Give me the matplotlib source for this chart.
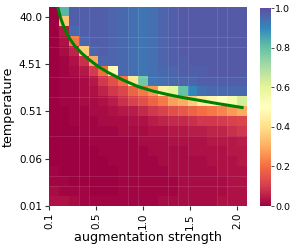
import numpy as np
import matplotlib
matplotlib.use("Agg")
import matplotlib.pyplot as plt

# tick labels
strength_labels = ["0.1", "0.5", "1.0", "1.5", "2.0"]
temperature_labels = ["0.01", "0.06", "0.51", "4.51", "40.0"]
cbar_ticks = [0.0, 0.2, 0.4, 0.6, 0.8, 1.0]

# 20x20 grid, row 0 = highest temperature (top), col 0 = lowest strength
r00 = [0.00, 0.82, 0.97, 0.97, 0.97, 0.97, 0.96, 0.95, 0.94, 0.93, 0.94, 0.96, 0.97, 0.98, 0.98, 0.98, 0.98, 0.98, 0.98, 0.98]
r01 = [0.00, 0.35, 0.97, 0.97, 0.97, 0.97, 0.96, 0.95, 0.94, 0.93, 0.94, 0.96, 0.97, 0.98, 0.98, 0.98, 0.98, 0.98, 0.98, 0.98]
r02 = [0.00, 0.04, 0.95, 0.97, 0.97, 0.97, 0.96, 0.95, 0.94, 0.93, 0.94, 0.96, 0.97, 0.98, 0.98, 0.98, 0.98, 0.98, 0.98, 0.98]
r03 = [0.00, 0.03, 0.22, 0.96, 0.97, 0.97, 0.96, 0.95, 0.94, 0.93, 0.94, 0.96, 0.97, 0.98, 0.98, 0.98, 0.98, 0.98, 0.98, 0.98]
r04 = [0.00, 0.02, 0.06, 0.36, 0.96, 0.97, 0.96, 0.95, 0.94, 0.93, 0.94, 0.96, 0.97, 0.98, 0.98, 0.98, 0.98, 0.98, 0.98, 0.98]
r05 = [0.00, 0.01, 0.03, 0.08, 0.30, 0.96, 0.96, 0.95, 0.94, 0.93, 0.94, 0.96, 0.97, 0.97, 0.98, 0.98, 0.98, 0.98, 0.98, 0.98]
r06 = [0.00, 0.01, 0.02, 0.04, 0.10, 0.20, 0.48, 0.95, 0.94, 0.93, 0.94, 0.95, 0.96, 0.97, 0.97, 0.97, 0.98, 0.98, 0.98, 0.98]
r07 = [0.00, 0.01, 0.01, 0.02, 0.04, 0.09, 0.14, 0.20, 0.42, 0.78, 0.93, 0.94, 0.95, 0.96, 0.96, 0.97, 0.97, 0.97, 0.97, 0.97]
r08 = [0.00, 0.01, 0.01, 0.02, 0.03, 0.06, 0.09, 0.12, 0.18, 0.22, 0.27, 0.45, 0.60, 0.80, 0.90, 0.94, 0.95, 0.95, 0.95, 0.95]
r09 = [0.00, 0.01, 0.01, 0.02, 0.02, 0.03, 0.05, 0.08, 0.11, 0.14, 0.18, 0.22, 0.28, 0.30, 0.36, 0.44, 0.47, 0.50, 0.55, 0.63]
r10 = [0.00, 0.00, 0.01, 0.01, 0.02, 0.02, 0.03, 0.04, 0.05, 0.07, 0.09, 0.11, 0.14, 0.16, 0.18, 0.20, 0.22, 0.24, 0.27, 0.30]
r11 = [0.00, 0.00, 0.01, 0.01, 0.01, 0.02, 0.02, 0.02, 0.03, 0.03, 0.05, 0.06, 0.07, 0.07, 0.08, 0.09, 0.09, 0.10, 0.11, 0.12]
r12 = [0.00, 0.00, 0.00, 0.01, 0.01, 0.01, 0.01, 0.02, 0.02, 0.02, 0.03, 0.03, 0.04, 0.04, 0.05, 0.05, 0.06, 0.06, 0.08, 0.09]
r13 = [0.00, 0.00, 0.00, 0.00, 0.01, 0.01, 0.01, 0.01, 0.01, 0.02, 0.02, 0.02, 0.03, 0.03, 0.03, 0.03, 0.04, 0.04, 0.04, 0.05]
r14 = [0.00, 0.00, 0.00, 0.00, 0.00, 0.01, 0.01, 0.01, 0.01, 0.01, 0.02, 0.02, 0.02, 0.02, 0.03, 0.03, 0.03, 0.03, 0.04, 0.04]
r15 = [0.00, 0.00, 0.00, 0.00, 0.00, 0.00, 0.01, 0.01, 0.01, 0.01, 0.01, 0.02, 0.02, 0.02, 0.02, 0.02, 0.03, 0.03, 0.03, 0.04]
r16 = [0.01, 0.00, 0.00, 0.00, 0.00, 0.00, 0.00, 0.01, 0.01, 0.01, 0.01, 0.01, 0.02, 0.02, 0.02, 0.02, 0.02, 0.03, 0.03, 0.03]
r17 = [0.01, 0.01, 0.00, 0.00, 0.00, 0.00, 0.00, 0.01, 0.01, 0.01, 0.01, 0.01, 0.01, 0.02, 0.02, 0.02, 0.02, 0.02, 0.03, 0.03]
r18 = [0.02, 0.01, 0.01, 0.01, 0.00, 0.00, 0.00, 0.01, 0.01, 0.01, 0.01, 0.01, 0.01, 0.02, 0.02, 0.02, 0.02, 0.02, 0.03, 0.03]
r19 = [0.03, 0.03, 0.02, 0.01, 0.01, 0.01, 0.01, 0.01, 0.01, 0.01, 0.01, 0.02, 0.02, 0.02, 0.02, 0.02, 0.02, 0.03, 0.03, 0.03]

grid = np.array([r00, r01, r02, r03, r04, r05, r06, r07, r08, r09,
                 r10, r11, r12, r13, r14, r15, r16, r17, r18, r19])

# green boundary curve, in cell units (x from left, y from bottom)
curve_x = [0.85, 1.2, 1.6, 2.1, 2.6, 3.3, 4.0, 5.0, 6.0, 7.5, 9.0, 10.5, 12.0, 13.5, 15.0, 17.0, 19.5]
curve_y = [20.1, 18.8, 17.75, 16.8, 16.1, 15.35, 14.75, 14.0, 13.4, 12.65, 12.0, 11.55, 11.2, 10.9, 10.65, 10.3, 9.9]

# faint light seams visible in the original raster (cell boundaries)
seam_cols = [3, 4, 8, 9, 12, 13, 14, 17, 18]
seam_rows = [2, 3, 7, 11, 13, 16, 17]

W, H = 293, 249
fig = plt.figure(figsize=(W / 100, H / 100), dpi=100)
ax = fig.add_axes([49 / W, 43 / H, 198 / W, 199 / H])
cax = fig.add_axes([260 / W, 43 / H, 10.5 / W, 198 / H])

n_rows, n_cols = grid.shape
im = ax.imshow(grid, cmap="Spectral", vmin=0, vmax=1, origin="upper",
               extent=(0, n_cols, 0, n_rows), aspect="auto", interpolation="nearest")
for c in seam_cols:
    ax.axvline(c, color="white", lw=0.6, alpha=0.13)
for r in seam_rows:
    ax.axhline(r, color="white", lw=0.6, alpha=0.13)
ax.plot(curve_x, curve_y, color="green", lw=2.2, clip_on=True)
ax.set_xlim(0, n_cols)
ax.set_ylim(0, n_rows)

for s in ax.spines.values():
    s.set_visible(False)

ax.set_xticks(np.linspace(0, n_cols - 1, len(strength_labels)))
ax.set_xticklabels(strength_labels, rotation=90)
ax.set_yticks(np.linspace(0, n_rows - 1, len(temperature_labels)))
ax.set_yticklabels(temperature_labels)
ax.tick_params(labelsize=7.5, length=3, width=0.8, color="#333333", pad=2)
ax.set_xlabel("augmentation strength", fontsize=9.2, labelpad=1)
ax.set_ylabel("temperature", fontsize=9.2, labelpad=3)

cb = fig.colorbar(im, cax=cax)
cb.outline.set_visible(False)
cb.set_ticks(cbar_ticks)
cb.ax.tick_params(labelsize=6.8, length=2, width=0.6, color="#333333", pad=1.5)

fig.savefig("out.png", dpi=100)
